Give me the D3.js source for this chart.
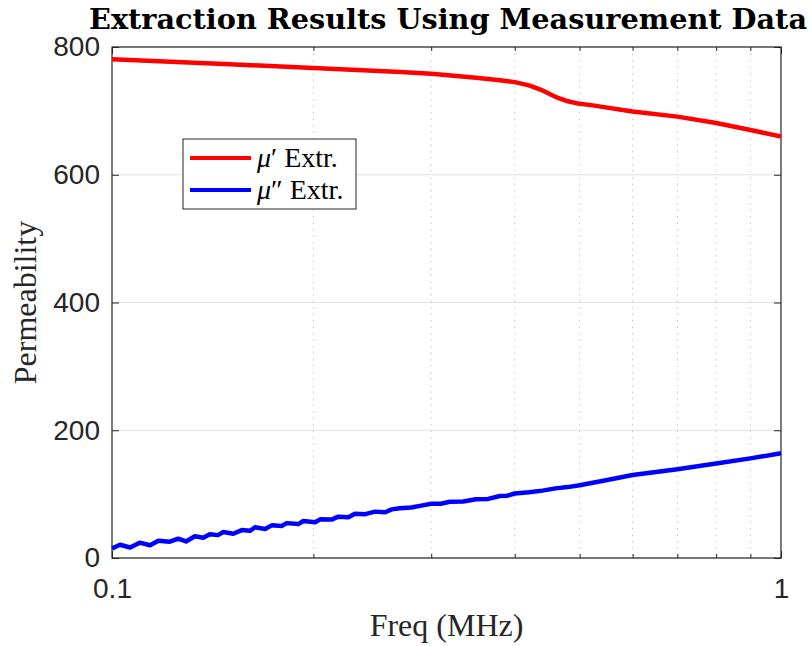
<!DOCTYPE html>
<meta charset="utf-8">
<style>
body { margin: 0; background: #fff; }
svg { display: block; }
.axis text { font: 28px "Liberation Sans", Arial, sans-serif; fill: #262626; }
.axis line { stroke: #262626; }
.axis .domain { display: none; }
.lbl { font-family: "Liberation Serif", "Times New Roman", serif; fill: #262626; }
</style>
<body>
<script src="https://cdn.jsdelivr.net/npm/d3@7"></script>
<script>

// chart values
var titleText = "Extraction Results Using Measurement Data";
var xLabelText = "Freq (MHz)";
var yLabelText = "Permeability";
var seriesSymbols = ["\u03bc", "\u03bc"];
var seriesPrimes = ["\u2032", "\u2033"];
var seriesNames = [" Extr.", " Extr."];
var seriesColours = ["#ff0000", "#0000ff"];

var xMajorTicks = [0.1, 1];
var xMinorTicks = [0.2, 0.3, 0.4, 0.5, 0.6, 0.7, 0.8, 0.9];
var xTickLabels = ["0.1", "1"];
var yTicks = [0, 200, 400, 600, 800];

// mu' (real part), [freq MHz, value]
var muReal = [
  [0.1, 781], [0.15, 773], [0.2, 767], [0.27, 761], [0.3, 758],
  [0.35, 752], [0.38, 748], [0.4, 745], [0.42, 740], [0.44, 732],
  [0.46, 722], [0.48, 715], [0.5, 711], [0.52, 709], [0.6, 699],
  [0.7, 691], [0.8, 681], [0.9, 670], [1.0, 660]
];

// mu'' (imaginary part), [freq MHz, value]
var muImag = [
  [0.1, 15], [0.1028, 20.8], [0.1064, 16.4], [0.110, 24], [0.114, 19.9],
  [0.1173, 27], [0.122, 25.6], [0.1256, 30.3], [0.129, 25.9], [0.133, 34],
  [0.1369, 31.6], [0.140, 37.2], [0.144, 35.8], [0.1467, 40.6], [0.1518, 38],
  [0.1563, 43.7], [0.1608, 42.6], [0.1636, 48.1], [0.1694, 45.5], [0.1733, 51.1],
  [0.1793, 50.1], [0.1824, 54.6], [0.1899, 53.1], [0.1932, 57.9], [0.2012, 56],
  [0.2047, 60.5], [0.213, 60.1], [0.2178, 64.7], [0.2256, 63.7], [0.2308, 69.4],
  [0.239, 68.6], [0.2474, 72.6], [0.256, 71.7], [0.2619, 76.1], [0.2693, 77.9],
  [0.28, 79], [0.29, 82], [0.3, 85], [0.31, 85], [0.32, 88], [0.335, 88.5],
  [0.35, 92], [0.365, 92.5], [0.38, 97], [0.39, 97.5], [0.4, 101], [0.42, 103],
  [0.44, 105.5], [0.46, 109], [0.48, 111], [0.5, 114], [0.55, 122],
  [0.6, 130], [0.7, 139], [0.8, 148], [0.9, 156], [1.0, 164]
];

var width = 812, height = 646;
var margin = {top: 47, right: 31, bottom: 88, left: 112};
var plotW = width - margin.left - margin.right,
    plotH = height - margin.top - margin.bottom;

var x = d3.scaleLog().domain([0.1, 1]).range([0, plotW]);
var y = d3.scaleLinear().domain([0, 800]).range([plotH, 0]);

var svg = d3.select("body").append("svg")
    .attr("width", width)
    .attr("height", height);

var g = svg.append("g")
    .attr("transform", "translate(" + margin.left + "," + margin.top + ")");

// grid: solid major horizontals, dotted minor verticals
g.append("g").selectAll("line")
    .data(yTicks)
  .enter().append("line")
    .attr("x1", 0).attr("x2", plotW)
    .attr("y1", function(d) { return y(d); })
    .attr("y2", function(d) { return y(d); })
    .style("stroke", "#e1e1e1")
    .style("stroke-width", 1);

g.append("g").selectAll("line")
    .data(xMinorTicks)
  .enter().append("line")
    .attr("x1", function(d) { return x(d); })
    .attr("x2", function(d) { return x(d); })
    .attr("y1", 0).attr("y2", plotH)
    .style("stroke", "#c8c8c8")
    .style("stroke-width", 1)
    .style("stroke-dasharray", "1.5,5");

// axes, ticks pointing inwards
g.append("g").attr("class", "axis")
    .attr("transform", "translate(0," + plotH + ")")
    .call(d3.axisBottom(x).tickValues(xMajorTicks).tickSize(-7).tickPadding(20)
      .tickFormat(function(d, i) { return xTickLabels[i]; }));
g.append("g").attr("class", "axis")
    .attr("transform", "translate(0," + plotH + ")")
    .call(d3.axisBottom(x).tickValues(xMinorTicks).tickSize(-4).tickFormat(""));
g.append("g").attr("class", "axis")
    .call(d3.axisTop(x).tickValues(xMajorTicks).tickSize(-7).tickFormat(""));
g.append("g").attr("class", "axis")
    .call(d3.axisTop(x).tickValues(xMinorTicks).tickSize(-4).tickFormat(""));
g.append("g").attr("class", "axis")
    .call(d3.axisLeft(y).tickValues(yTicks).tickSize(-7).tickPadding(12));
g.append("g").attr("class", "axis")
    .attr("transform", "translate(" + plotW + ",0)")
    .call(d3.axisRight(y).tickValues(yTicks).tickSize(-7).tickFormat(""));

// frame
g.append("rect")
    .attr("width", plotW).attr("height", plotH)
    .style("fill", "none")
    .style("stroke", "#262626")
    .style("stroke-width", 1.2);

// lines
var line = d3.line()
    .x(function(d) { return x(d[0]); })
    .y(function(d) { return y(d[1]); });

[muReal, muImag].forEach(function(s, i) {
  g.append("path")
      .datum(s)
      .attr("d", line)
      .style("fill", "none")
      .style("stroke", seriesColours[i])
      .style("stroke-width", 4.5)
      .style("stroke-linejoin", "round");
});

// legend
var legend = svg.append("g").attr("transform", "translate(183,139)");
legend.append("rect")
    .attr("width", 173).attr("height", 70)
    .style("fill", "#fff")
    .style("stroke", "#262626")
    .style("stroke-width", 1);

var item = legend.selectAll(".item")
    .data(seriesNames)
  .enter().append("g")
    .attr("class", "item")
    .attr("transform", function(d, i) { return "translate(0," + (19 + i * 32) + ")"; });

item.append("line")
    .attr("x1", 7).attr("x2", 68)
    .style("stroke", function(d, i) { return seriesColours[i]; })
    .style("stroke-width", 4);

var itemText = item.append("text")
    .attr("class", "lbl")
    .attr("x", 74)
    .attr("y", 9)
    .style("font-size", "28px")
    .style("fill", "#000");
itemText.append("tspan")
    .style("font-style", "italic")
    .text(function(d, i) { return seriesSymbols[i]; });
itemText.append("tspan")
    .text(function(d, i) { return seriesPrimes[i]; });
itemText.append("tspan")
    .text(function(d) { return d; });

// title and axis labels
svg.append("text")
    .attr("class", "lbl")
    .attr("x", 448).attr("y", 29)
    .attr("text-anchor", "middle")
    .attr("textLength", 718)
    .attr("lengthAdjust", "spacingAndGlyphs")
    .style("font-family", "'DejaVu Serif', serif")
    .style("font-weight", "bold")
    .style("font-size", "28px")
    .style("fill", "#000")
    .text(titleText);

svg.append("text")
    .attr("class", "lbl")
    .attr("x", margin.left + plotW / 2).attr("y", 636)
    .attr("text-anchor", "middle")
    .style("font-size", "32px")
    .text(xLabelText);

svg.append("text")
    .attr("class", "lbl")
    .attr("transform", "translate(36," + (margin.top + plotH / 2) + ") rotate(-90)")
    .attr("text-anchor", "middle")
    .style("font-size", "32px")
    .text(yLabelText);

</script>
</body>
